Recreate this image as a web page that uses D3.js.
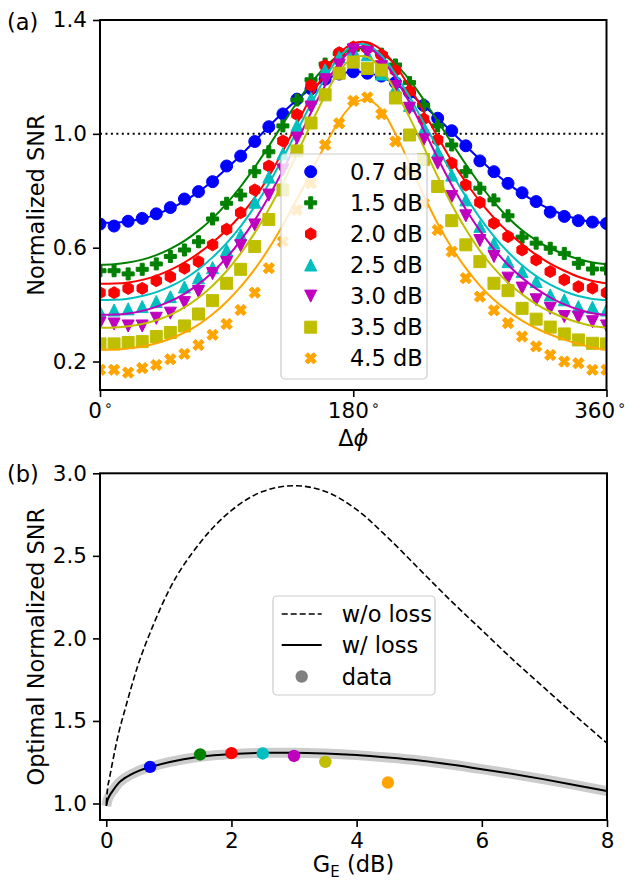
<!DOCTYPE html>
<html><head><meta charset="utf-8">
<script src="https://cdn.jsdelivr.net/npm/d3@7"></script>
<style>
body{margin:0;background:#fff}
text{font-family:"DejaVu Sans",sans-serif;fill:#000}
</style>
</head><body>
<svg id="c" width="629" height="882"></svg>
<script>
// ---------- Panel (a) data ----------
const angles = [0,10,20,30,40,50,60,70,80,90,100,110,120,130,140,150,160,170,180,190,200,210,220,230,240,250,260,270,280,290,300,310,320,330,340,350,360];
const seriesLabels = ["0.7 dB","1.5 dB","2.0 dB","2.5 dB","3.0 dB","3.5 dB","4.5 dB"];
const seriesColors = ["#0000ff","#008000","#ff0000","#00bfbf","#bf00bf","#bfbf00","#ffa500"];
const seriesMarkers = ["circle","plus","hexagon","triUp","triDown","square","x"];

const data07 = [0.683,0.676,0.693,0.703,0.719,0.741,0.771,0.797,0.832,0.887,0.922,0.973,1.025,1.070,1.122,1.158,1.192,1.210,1.218,1.213,1.203,1.180,1.145,1.100,1.055,1.011,0.958,0.905,0.867,0.826,0.793,0.762,0.725,0.710,0.695,0.690,0.685];
const data15 = [0.519,0.519,0.508,0.524,0.543,0.569,0.592,0.621,0.701,0.756,0.785,0.867,0.937,1.028,1.119,1.19,1.245,1.282,1.297,1.30,1.28,1.242,1.18,1.101,1.028,0.961,0.867,0.809,0.768,0.712,0.637,0.616,0.598,0.58,0.545,0.525,0.525];
const data20 = [0.442,0.442,0.457,0.457,0.484,0.498,0.528,0.551,0.61,0.665,0.723,0.803,0.887,0.975,1.068,1.17,1.24,1.285,1.305,1.30,1.277,1.223,1.15,1.052,0.979,0.897,0.82,0.759,0.686,0.639,0.592,0.557,0.516,0.487,0.463,0.458,0.442];
const data25 = [0.375,0.381,0.385,0.393,0.411,0.428,0.462,0.494,0.53,0.592,0.645,0.76,0.848,0.93,1.03,1.125,1.225,1.27,1.293,1.278,1.21,1.16,1.10,1.014,0.937,0.855,0.768,0.675,0.616,0.551,0.516,0.481,0.434,0.417,0.393,0.391,0.381];
const data30 = [0.335,0.332,0.325,0.325,0.352,0.37,0.407,0.446,0.509,0.548,0.607,0.68,0.785,0.873,0.985,1.094,1.19,1.242,1.295,1.286,1.236,1.166,1.09,0.979,0.897,0.78,0.712,0.625,0.569,0.493,0.458,0.417,0.387,0.358,0.356,0.34,0.325];
const data35 = [0.262,0.262,0.267,0.27,0.288,0.302,0.325,0.367,0.414,0.475,0.524,0.604,0.699,0.803,0.94,1.038,1.137,1.213,1.252,1.23,1.224,1.126,0.996,0.91,0.815,0.695,0.61,0.551,0.475,0.449,0.387,0.349,0.321,0.297,0.276,0.264,0.262];
const data45 = [0.171,0.171,0.161,0.177,0.188,0.208,0.227,0.258,0.294,0.332,0.381,0.442,0.528,0.621,0.733,0.826,0.961,1.037,1.116,1.128,1.069,0.973,0.87,0.756,0.662,0.586,0.493,0.428,0.38,0.335,0.288,0.253,0.223,0.2,0.194,0.171,0.171];

const fit07 = [0.688,0.688,0.693,0.702,0.717,0.738,0.764,0.796,0.834,0.878,0.925,0.975,1.026,1.075,1.12,1.16,1.19,1.21,1.218,1.215,1.2,1.175,1.142,1.1,1.055,1.007,0.958,0.91,0.865,0.825,0.79,0.76,0.735,0.715,0.7,0.69,0.688];
const fit15 = [0.54,0.542,0.548,0.558,0.574,0.596,0.624,0.66,0.703,0.755,0.815,0.883,0.957,1.035,1.11,1.178,1.235,1.277,1.297,1.30,1.283,1.245,1.19,1.12,1.045,0.968,0.893,0.823,0.76,0.706,0.661,0.626,0.598,0.577,0.56,0.548,0.542];
const fit20 = [0.473,0.474,0.478,0.487,0.501,0.522,0.548,0.58,0.618,0.662,0.714,0.776,0.85,0.94,1.035,1.13,1.215,1.283,1.318,1.322,1.295,1.24,1.165,1.078,0.99,0.905,0.83,0.763,0.705,0.655,0.612,0.575,0.544,0.519,0.498,0.483,0.475];
const fit25 = [0.416,0.417,0.421,0.43,0.444,0.464,0.49,0.524,0.566,0.616,0.675,0.745,0.825,0.915,1.01,1.105,1.195,1.27,1.31,1.312,1.275,1.21,1.13,1.04,0.95,0.862,0.78,0.705,0.64,0.585,0.538,0.5,0.47,0.447,0.43,0.42,0.416];
const fit30 = [0.364,0.365,0.369,0.378,0.392,0.412,0.438,0.472,0.514,0.565,0.626,0.697,0.78,0.872,0.972,1.075,1.17,1.25,1.298,1.305,1.265,1.195,1.11,1.015,0.915,0.82,0.735,0.66,0.595,0.54,0.494,0.456,0.425,0.401,0.383,0.37,0.364];
const fit35 = [0.319,0.32,0.324,0.332,0.345,0.364,0.39,0.424,0.466,0.518,0.58,0.652,0.735,0.828,0.93,1.035,1.135,1.22,1.268,1.27,1.228,1.15,1.058,0.955,0.85,0.752,0.665,0.59,0.528,0.477,0.436,0.402,0.375,0.354,0.337,0.325,0.319];
const fit45 = [0.241,0.242,0.246,0.253,0.264,0.28,0.302,0.33,0.366,0.41,0.463,0.525,0.597,0.68,0.77,0.865,0.96,1.045,1.105,1.12,1.085,1.0,0.895,0.785,0.685,0.6,0.528,0.467,0.417,0.377,0.344,0.317,0.295,0.277,0.262,0.249,0.241];

const yTicksA = [0.2,0.6,1.0,1.4];
const xTicksA = [0,180,360];

// ---------- Panel (b) data ----------
const gainsB = [0.7,1.5,2.0,2.5,3.0,3.5,4.5];
const optSNR = [1.222,1.297,1.305,1.303,1.288,1.252,1.127];
const curveG = [0,0.02,0.05,0.1,0.2,0.3,0.5,0.75,1,1.5,2,2.5,3,3.5,4,4.5,5,5.5,6,6.5,7,7.5,8];
const noLoss = [1.0,1.09,1.15,1.25,1.43,1.57,1.83,2.08,2.29,2.58,2.775,2.89,2.925,2.89,2.78,2.61,2.42,2.23,2.05,1.87,1.70,1.53,1.365];
const withLoss = [0.985,1.02,1.045,1.075,1.125,1.155,1.195,1.226,1.25,1.283,1.300,1.307,1.308,1.303,1.293,1.278,1.26,1.236,1.208,1.178,1.146,1.111,1.075];
const yTicksB = [1.0,1.5,2.0,2.5,3.0];
const xTicksB = [0,2,4,6,8];

const dataA = [data07,data15,data20,data25,data30,data35,data45];
const fitA = [fit07,fit15,fit20,fit25,fit30,fit35,fit45];

const svg = d3.select("#c");
const FS = 21.5;
const LFS = 22.5;

function markerPath(type, s){
  const h = s/2;
  if(type==="circle"){ const p=d3.path(); p.arc(0,0,h,0,2*Math.PI); p.closePath(); return p.toString(); }
  if(type==="square") return `M${-h},${-h}H${h}V${h}H${-h}Z`;
  if(type==="triUp") return `M0,${-h}L${h},${h}L${-h},${h}Z`;
  if(type==="triDown") return `M0,${h}L${h},${-h}L${-h},${-h}Z`;
  if(type==="hexagon"){
    const pts=[]; for(let k=0;k<6;k++){const a=-Math.PI/2+k*Math.PI/3; pts.push([h*Math.cos(a),h*Math.sin(a)]);}
    return "M"+pts.map(p=>p.join(",")).join("L")+"Z";
  }
  const a = h/3;
  let pts = [[-a,-h],[a,-h],[a,-a],[h,-a],[h,a],[a,a],[a,h],[-a,h],[-a,a],[-h,a],[-h,-a],[-a,-a]];
  if(type==="x"){ const c=Math.SQRT1_2; pts = pts.map(([x,y])=>[(x-y)*c,(x+y)*c]); }
  return "M"+pts.map(p=>p.join(",")).join("L")+"Z";
}
const MS = 12;

// ================= Panel (a) =================
const A = {l:100, r:606.5, t:20, b:390};
const xA = d3.scaleLinear().domain([0,360]).range([A.l,A.r]);
const yA = d3.scaleLinear().domain([0.1,1.4]).range([A.b,A.t]);

svg.append("clipPath").attr("id","clipA").append("rect")
  .attr("x",A.l).attr("y",A.t).attr("width",A.r-A.l).attr("height",A.b-A.t);
const gA = svg.append("g").attr("clip-path","url(#clipA)");

gA.append("line").attr("x1",A.l).attr("x2",A.r).attr("y1",yA(1.0)).attr("y2",yA(1.0))
  .attr("stroke","#000").attr("stroke-width",2).attr("stroke-dasharray","2,3.45");

const lineA = d3.line().x((d,i)=>xA(angles[i])).y(d=>yA(d)).curve(d3.curveCatmullRom.alpha(0.5));
seriesLabels.forEach((lab,si)=>{
  gA.append("path").attr("d",lineA(fitA[si])).attr("fill","none")
    .attr("stroke",seriesColors[si]).attr("stroke-width",2);
  gA.selectAll(null).data(dataA[si]).enter().append("path")
    .attr("d",markerPath(seriesMarkers[si],MS))
    .attr("transform",(d,i)=>`translate(${xA(angles[i])},${yA(d)})`)
    .attr("fill",seriesColors[si]).attr("stroke",seriesColors[si]).attr("stroke-width",1);
});

// legend (a)
const legA = svg.append("g");
legA.append("rect").attr("x",281).attr("y",154).attr("width",146).attr("height",225)
  .attr("rx",4).attr("fill","#fff").attr("fill-opacity",0.8).attr("stroke","#cccccc").attr("stroke-width",1.2);
seriesLabels.forEach((lab,si)=>{
  const yy = 171.7 + si*31.1;
  legA.append("path").attr("d",markerPath(seriesMarkers[si],MS))
    .attr("transform",`translate(310.7,${yy})`)
    .attr("fill",seriesColors[si]).attr("stroke",seriesColors[si]).attr("stroke-width",1);
  legA.append("text").attr("x",350).attr("y",yy).attr("dy","0.36em").attr("font-size",LFS).text(lab);
});

// axes (a)
const axLA = svg.append("g").attr("transform",`translate(${A.l},0)`)
  .call(d3.axisLeft(yA).tickValues(yTicksA).tickFormat(d3.format(".1f")).tickSize(7).tickPadding(6));
const axBA = svg.append("g").attr("transform",`translate(0,${A.b})`)
  .call(d3.axisBottom(xA).tickValues(xTicksA).tickSize(7).tickPadding(6));
[axLA,axBA].forEach(g=>{
  g.select(".domain").remove();
  g.selectAll(".tick line").attr("stroke","#000").attr("stroke-width",1.6);
  g.selectAll(".tick text").attr("font-size",FS).attr("font-family","DejaVu Sans").attr("fill","#000");
});
axBA.selectAll(".tick text").each(function(d){
  const t=d3.select(this); t.text(null);
  t.append("tspan").text(d);
  t.append("tspan").attr("dx",2).attr("dy",-8).attr("font-size",14).text("\u2218");
});
axBA.selectAll(".tick").filter(d=>d===360).select("text").attr("text-anchor","end").attr("x",19);
svg.append("rect").attr("x",A.l).attr("y",A.t).attr("width",A.r-A.l).attr("height",A.b-A.t)
  .attr("fill","none").attr("stroke","#000").attr("stroke-width",2);

svg.append("text").attr("transform",`translate(43.5,${(A.t+A.b)/2}) rotate(-90)`)
  .attr("text-anchor","middle").attr("font-size",LFS).text("Normalized SNR");
const xl = svg.append("text").attr("x",(A.l+A.r)/2).attr("y",446).attr("text-anchor","middle").attr("font-size",LFS);
xl.append("tspan").text("\u0394");
xl.append("tspan").attr("font-style","italic").text("\u03d5");
svg.append("text").attr("x",7).attr("y",30).attr("font-size",LFS).text("(a)");

// ================= Panel (b) =================
const B = {l:100, r:607, t:473.3, b:820};
const xB = d3.scaleLinear().domain([-0.1,8]).range([B.l,B.r]);
const yB = d3.scaleLinear().domain([0.9,3.0]).range([B.b,B.t]);

svg.append("clipPath").attr("id","clipB").append("rect")
  .attr("x",B.l).attr("y",B.t).attr("width",B.r-B.l).attr("height",B.b-B.t);
const gB = svg.append("g").attr("clip-path","url(#clipB)");
const lineB = d3.line().x((d,i)=>xB(curveG[i])).y(d=>yB(d)).curve(d3.curveMonotoneX);

gB.append("path").attr("d",lineB(withLoss)).attr("fill","none").attr("stroke","#cccccc").attr("stroke-width",10);
gB.append("path").attr("d",lineB(noLoss)).attr("fill","none").attr("stroke","#000").attr("stroke-width",1.6).attr("stroke-dasharray","6,3");
gB.append("path").attr("d",lineB(withLoss)).attr("fill","none").attr("stroke","#000").attr("stroke-width",2);
gB.selectAll(null).data(optSNR).enter().append("circle")
  .attr("cx",(d,i)=>xB(gainsB[i])).attr("cy",d=>yB(d)).attr("r",6.2)
  .attr("fill",(d,i)=>seriesColors[i]);

// legend (b)
const legB = svg.append("g");
legB.append("rect").attr("x",273).attr("y",596).attr("width",162).attr("height",99)
  .attr("rx",4).attr("fill","#fff").attr("fill-opacity",0.8).attr("stroke","#cccccc").attr("stroke-width",1.2);
legB.append("line").attr("x1",281.7).attr("x2",321.7).attr("y1",614).attr("y2",614)
  .attr("stroke","#000").attr("stroke-width",1.6).attr("stroke-dasharray","6,3");
legB.append("line").attr("x1",281.7).attr("x2",321.7).attr("y1",645).attr("y2",645)
  .attr("stroke","#000").attr("stroke-width",2);
legB.append("circle").attr("cx",301.7).attr("cy",676.5).attr("r",6.2).attr("fill","#808080");
[["w/o loss",614],["w/ loss",645],["data",676.5]].forEach(([t,yy])=>{
  legB.append("text").attr("x",341.7).attr("y",yy).attr("dy","0.36em").attr("font-size",LFS).text(t);
});

const axLB = svg.append("g").attr("transform",`translate(${B.l},0)`)
  .call(d3.axisLeft(yB).tickValues(yTicksB).tickFormat(d3.format(".1f")).tickSize(7).tickPadding(6));
const axBB = svg.append("g").attr("transform",`translate(0,${B.b})`)
  .call(d3.axisBottom(xB).tickValues(xTicksB).tickFormat(d3.format("d")).tickSize(7).tickPadding(6));
[axLB,axBB].forEach(g=>{
  g.select(".domain").remove();
  g.selectAll(".tick line").attr("stroke","#000").attr("stroke-width",1.6);
  g.selectAll(".tick text").attr("font-size",FS).attr("font-family","DejaVu Sans").attr("fill","#000");
});
svg.append("rect").attr("x",B.l).attr("y",B.t).attr("width",B.r-B.l).attr("height",B.b-B.t)
  .attr("fill","none").attr("stroke","#000").attr("stroke-width",2);

svg.append("text").attr("transform",`translate(43.5,${(B.t+B.b)/2}) rotate(-90)`)
  .attr("text-anchor","middle").attr("font-size",LFS).text("Optimal Normalized SNR");
const xlb = svg.append("text").attr("x",(B.l+B.r)/2).attr("y",872).attr("text-anchor","middle").attr("font-size",LFS);
xlb.append("tspan").text("G");
xlb.append("tspan").attr("font-size",15).attr("dy",5).text("E");
xlb.append("tspan").attr("dy",-5).text(" (dB)");
svg.append("text").attr("x",7).attr("y",482).attr("font-size",LFS).text("(b)");
</script>
</body></html>
